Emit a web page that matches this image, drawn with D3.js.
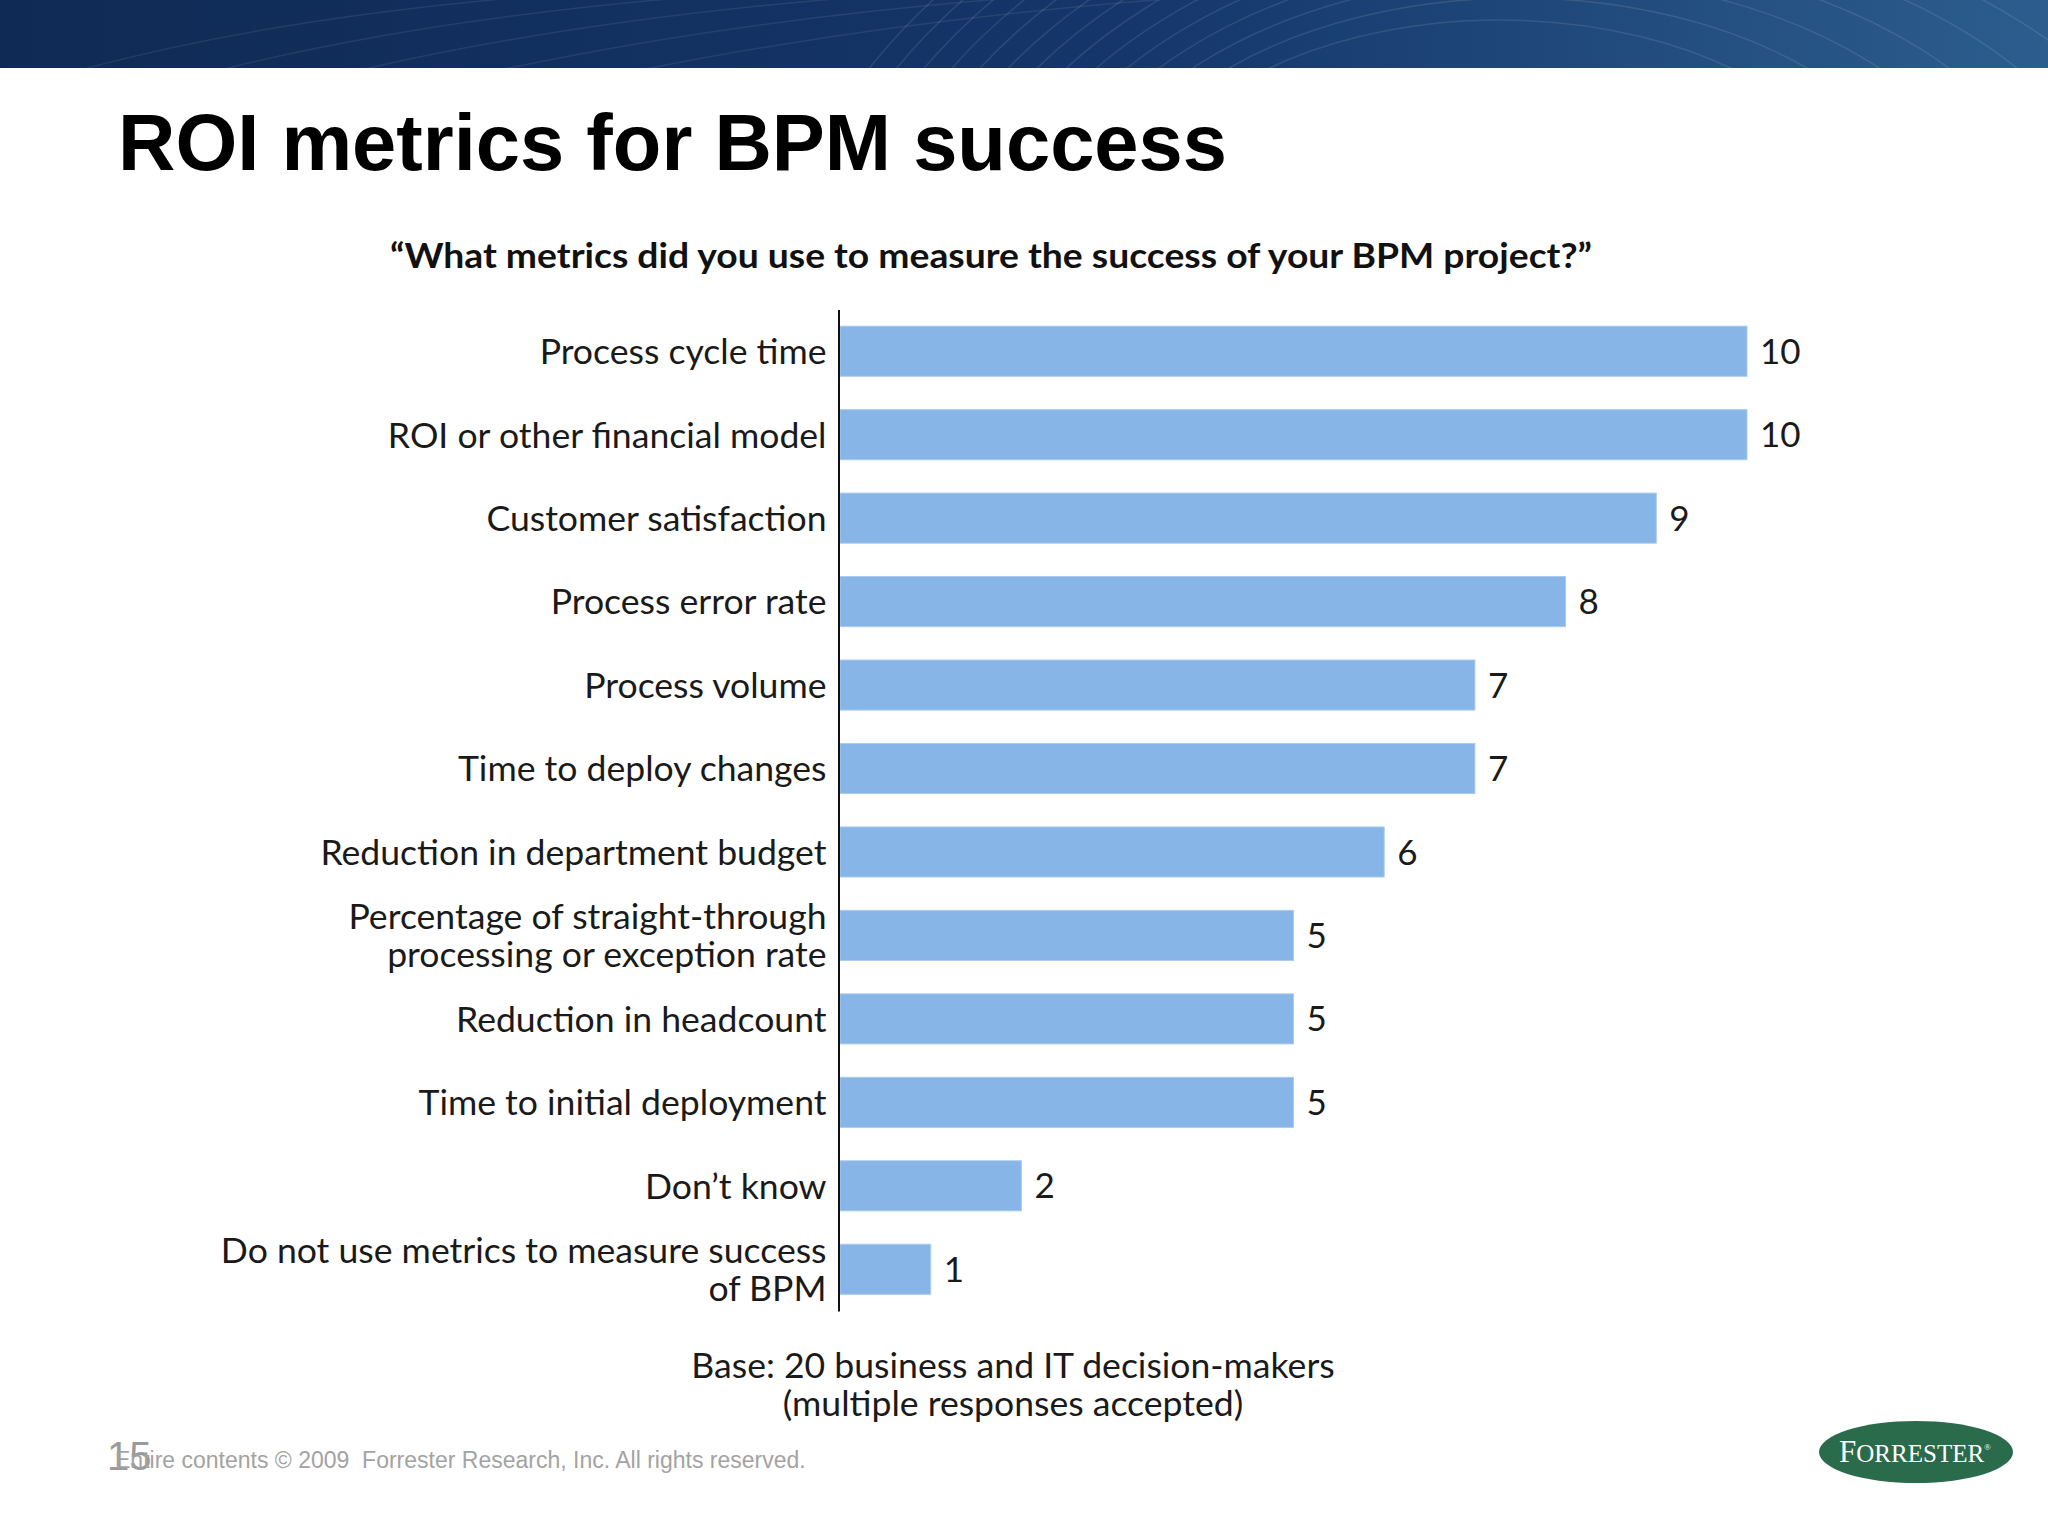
<!DOCTYPE html>
<html>
<head>
<meta charset="utf-8">
<script src="https://cdn.jsdelivr.net/npm/d3@7"></script>
<style>
  html, body { margin: 0; padding: 0; background: #ffffff; }
  svg { display: block; }
</style>
</head>
<body>
<svg id="chart" width="2048" height="1536"></svg>
<script>
// ---- data ----
const title = "ROI metrics for BPM success";
const subtitle = "\u201CWhat metrics did you use to measure the success of your BPM project?\u201D";
const categories = [
  ["Process cycle time"],
  ["ROI or other financial model"],
  ["Customer satisfaction"],
  ["Process error rate"],
  ["Process volume"],
  ["Time to deploy changes"],
  ["Reduction in department budget"],
  ["Percentage of straight-through", "processing or exception rate"],
  ["Reduction in headcount"],
  ["Time to initial deployment"],
  ["Don\u2019t know"],
  ["Do not use metrics to measure success", "of BPM"]
];
const values = [10, 10, 9, 8, 7, 7, 6, 5, 5, 5, 2, 1];
const baseNote = ["Base: 20 business and IT decision-makers", "(multiple responses accepted)"];
const footerText = "Entire contents \u00A9 2009  Forrester Research, Inc. All rights reserved.";
const pageNumber = "15";

// ---- drawing ----
const svg = d3.select("#chart");
const W = 2048, H = 1536;
const labelFont = "Lato, 'Open Sans', sans-serif";

// header band
const defs = svg.append("defs");
const grad = defs.append("linearGradient").attr("id", "band").attr("x1", "0").attr("x2", "1").attr("y1", "0").attr("y2", "0");
grad.append("stop").attr("offset", "0").attr("stop-color", "#0f2a54");
grad.append("stop").attr("offset", "0.55").attr("stop-color", "#15366a");
grad.append("stop").attr("offset", "1").attr("stop-color", "#2c5d8e");
svg.append("rect").attr("x", 0).attr("y", 0).attr("width", W).attr("height", 68).attr("fill", "url(#band)");
const curves = svg.append("g").attr("clip-path", "url(#bandclip)");
defs.append("clipPath").attr("id", "bandclip").append("rect").attr("width", W).attr("height", 68);
d3.range(14).forEach(i => {
  const cx = 1500 + i * 18, cy = 260 + i * 6, r = 240 + i * 28;
  curves.append("ellipse").attr("cx", cx).attr("cy", cy).attr("rx", r * 1.6).attr("ry", r)
    .attr("fill", "none").attr("stroke", "rgba(255,255,255,0.10)").attr("stroke-width", 1.5);
});
d3.range(5).forEach(i => {
  curves.append("path")
    .attr("d", `M${80 + i * 140},70 Q${300 + i * 160},10 ${620 + i * 170},-10`)
    .attr("fill", "none").attr("stroke", "rgba(255,255,255,0.08)").attr("stroke-width", 1.5);
});

// title
svg.append("text").attr("x", 118).attr("y", 170)
  .attr("font-family", "'Liberation Sans', Arial, sans-serif").attr("font-weight", 700)
  .attr("font-size", 79.5).attr("fill", "#000").text(title);

// subtitle
svg.append("text").attr("x", 991).attr("y", 268).attr("text-anchor", "middle")
  .attr("font-family", labelFont).attr("font-weight", 700).attr("font-size", 35)
  .attr("fill", "#111").attr("textLength", 1202).attr("lengthAdjust", "spacingAndGlyphs")
  .text(subtitle);

// scales
const y = d3.scaleBand().domain(d3.range(categories.length))
  .range([309.5, 1311]).paddingInner(0.4).paddingOuter(0.2);
const x = d3.scaleLinear().domain([0, 10]).range([840, 1747]);

// bars
svg.append("g").selectAll("rect").data(values).join("rect")
  .attr("x", x(0)).attr("y", (d, i) => y(i))
  .attr("width", d => x(d) - x(0)).attr("height", y.bandwidth())
  .attr("fill", "#87b5e7").attr("stroke", "#a9cbef").attr("stroke-width", 1);

// value labels
svg.append("g").selectAll("text").data(values).join("text")
  .attr("x", d => x(d) + 13).attr("y", (d, i) => y(i) + y.bandwidth() / 2)
  .attr("dy", "0.36em")
  .attr("font-family", labelFont).attr("font-size", 35).attr("fill", "#1a1a1a")
  .text(d => d);

// y axis
const yAxis = d3.axisLeft(y).tickSize(0).tickSizeOuter(0).tickPadding(12).tickFormat("");
const ag = svg.append("g").attr("transform", "translate(838.5,0)").call(yAxis);
ag.select(".domain").attr("stroke", "#111").attr("stroke-width", 2);
ag.selectAll(".tick text").each(function (i) {
  const t = d3.select(this);
  const lines = categories[i];
  t.attr("font-family", labelFont).attr("font-size", 35.6).attr("fill", "#1a1a1a")
   .attr("x", -12).attr("dy", null).attr("text-anchor", "end");
  lines.forEach((ln, k) => {
    const off = (k - (lines.length - 1) / 2) * 38;
    t.append("tspan").attr("x", -12).attr("y", off).attr("dy", "0.36em").text(ln);
  });
});

// base note
baseNote.forEach((ln, k) => {
  svg.append("text").attr("x", 1013).attr("y", 1378 + k * 38).attr("text-anchor", "middle")
    .attr("font-family", labelFont).attr("font-size", 35.6).attr("fill", "#1a1a1a").text(ln);
});

// footer
svg.append("text").attr("x", 107).attr("y", 1470)
  .attr("font-family", "'Liberation Sans', Arial, sans-serif").attr("font-size", 40)
  .attr("fill", "#9a9a9a").text(pageNumber);
svg.append("text").attr("x", 115).attr("y", 1468)
  .style("white-space", "pre")
  .attr("font-family", "'Liberation Sans', Arial, sans-serif").attr("font-size", 23)
  .attr("fill", "#a3a3a3").text(footerText);

// logo
const logo = svg.append("g").attr("transform", "translate(1916,1452)");
logo.append("ellipse").attr("rx", 97).attr("ry", 31).attr("fill", "#2a6b4c");
const lt = logo.append("text").attr("x", -1).attr("y", 10).attr("text-anchor", "middle")
  .attr("font-family", "'Liberation Serif', 'DejaVu Serif', serif").attr("fill", "#ffffff");
lt.append("tspan").attr("font-size", 31).text("F");
lt.append("tspan").attr("font-size", 25).text("ORRESTER");
lt.append("tspan").attr("font-size", 9).attr("dy", -12).text("\u00AE");
</script>
</body>
</html>
